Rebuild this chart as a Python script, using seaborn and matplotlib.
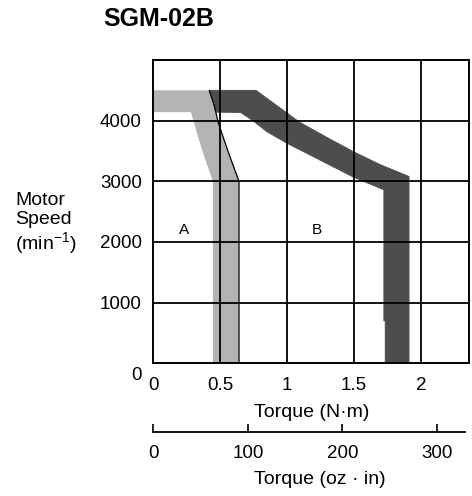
import matplotlib
matplotlib.use("Agg")
import matplotlib.pyplot as plt
import matplotlib.transforms as mtransforms
import seaborn as sns
import pandas as pd
import numpy as np

# ---- data (torque N·m, speed min^-1) ----
a_outer_torque = [0.0, 0.418, 0.455, 0.486, 0.56, 0.64, 0.64]
a_outer_speed = [4500, 4500, 4250, 3960, 3480, 3000, 0]
a_inner_torque = [0.0, 0.28, 0.30, 0.325, 0.36, 0.39, 0.445, 0.445]
a_inner_speed = [4140, 4140, 4000, 3800, 3550, 3350, 3000, 0]

b_outer_torque = [0.418, 0.767, 1.096, 1.30, 1.494, 1.70, 1.91, 1.91]
b_outer_speed = [4500, 4500, 3970, 3720, 3490, 3270, 3080, 0]
b_inner_torque = [0.418, 0.455, 0.468, 0.653, 0.75, 0.847, 0.996, 1.245, 1.494, 1.722, 1.722, 1.732, 1.732]
b_inner_speed = [4500, 4250, 4140, 4135, 3990, 3820, 3630, 3350, 3070, 2860, 700, 700, 0]

x_ticks = [0, 0.5, 1, 1.5, 2]
x_tick_labels = ["0", "0.5", "1", "1.5", "2"]
y_ticks = [0, 1000, 2000, 3000, 4000]
y_tick_labels = ["0", "1000", "2000", "3000", "4000"]
oz_ticks = [0, 100, 200, 300]
region_labels = ["A", "B"]
region_label_torque = [0.226, 1.22]
region_label_speed = [2200, 2200]
NM_TO_OZIN = 141.61

sns.set_theme(style="white")
plt.rcParams["font.family"] = ["Liberation Sans", "DejaVu Sans"]
plt.rcParams["mathtext.default"] = "regular"
plt.rcParams["text.color"] = "black"
plt.rcParams["axes.labelcolor"] = "black"
plt.rcParams["xtick.color"] = "black"
plt.rcParams["ytick.color"] = "black"

W, H = 472, 496
fig = plt.figure(figsize=(W / 100, H / 100), dpi=100)
fig.patch.set_facecolor("white")

L, R, T, B = 153.3, 469.3, 60.0, 363.3
ax = fig.add_axes([L / W, 1 - B / H, (R - L) / W, (B - T) / H])
ax.set_facecolor("white")

light = "#b3b3b3"
dark = "#4d4d4d"

# region A polygon
ax_x = a_outer_torque + a_inner_torque[::-1]
ax_y = a_outer_speed + a_inner_speed[::-1]
ax.fill(ax_x, ax_y, color=light, lw=0, zorder=1)

# region B polygon
bx = b_outer_torque + b_inner_torque[::-1]
by = b_outer_speed + b_inner_speed[::-1]
ax.fill(bx, by, color=dark, lw=0.6, edgecolor=dark, zorder=1)

# thin boundary line
line_df = pd.DataFrame({"torque": a_outer_torque[1:], "speed": a_outer_speed[1:]})
sns.lineplot(data=line_df, x="torque", y="speed", sort=False, estimator=None,
             color="black", lw=0.9, ax=ax, zorder=3)

for lbl, tx, sy in zip(region_labels, region_label_torque, region_label_speed):
    ax.text(tx, sy, lbl, fontsize=11, ha="center", va="center", color="black", zorder=4)

ax.set_xlim(0, 2.36)
ax.set_ylim(0, 5000)
ax.set_xticks(x_ticks)
ax.set_xticklabels(x_tick_labels)
ax.set_yticks(y_ticks)
ax.set_yticklabels(y_tick_labels)
ax.tick_params(axis="both", length=0, labelsize=13.5, colors="black")
ax.tick_params(axis="x", pad=10)
ax.tick_params(axis="y", pad=8.3)
for x in x_ticks[1:]:
    ax.axvline(x, color="black", lw=1.3, zorder=2)
for y in y_ticks[1:]:
    ax.axhline(y, color="black", lw=1.3, zorder=2)
for s in ax.spines.values():
    s.set_color("black")
    s.set_linewidth(1.4)
    s.set_zorder(5)
ax.set_xlabel("Torque (N·m)", fontsize=14, labelpad=7, color="black")
ax.set_ylabel("")

# shift the y-axis "0" label down a bit
lab0 = ax.get_yticklabels()[0]
lab0.set_transform(lab0.get_transform() + mtransforms.ScaledTranslation(0, -10 / 100, fig.dpi_scale_trans))

# secondary torque axis (oz·in)
yline = 432.3
R2 = 465.0
ax2 = fig.add_axes([L / W, 1 - yline / H, (R2 - L) / W, 20 / H])
ax2.set_facecolor("none")
ax2.patch.set_visible(False)
for k in ["top", "left", "right"]:
    ax2.spines[k].set_visible(False)
ax2.spines["bottom"].set_color("black")
ax2.spines["bottom"].set_linewidth(1.3)
ax2.set_xlim(0, (R2 - L) / ((R - L) / 2.36) * NM_TO_OZIN)
ax2.set_xticks(oz_ticks)
ax2.set_xticklabels([str(t) for t in oz_ticks])
ax2.set_yticks([])
ax2.tick_params(axis="x", which="major", bottom=True, top=False, direction="in",
                length=5.5, width=1.2, color="black",
                labelsize=13.5, pad=9.5, labelcolor="black")
fig.text(320 / W, 1 - 480 / H, "Torque (oz · in)", fontsize=14, ha="center", va="center")

# y label and title
fig.text(15 / W, 1 - 224 / H, "Motor\nSpeed\n(min$^{\u22121}$)", fontsize=14,
         ha="left", va="center", linespacing=1.12)
fig.text(159 / W, 1 - 19.5 / H, "SGM-02B", fontsize=18, fontweight="bold",
         ha="center", va="center")

fig.savefig("out.png", dpi=100, facecolor="white")
